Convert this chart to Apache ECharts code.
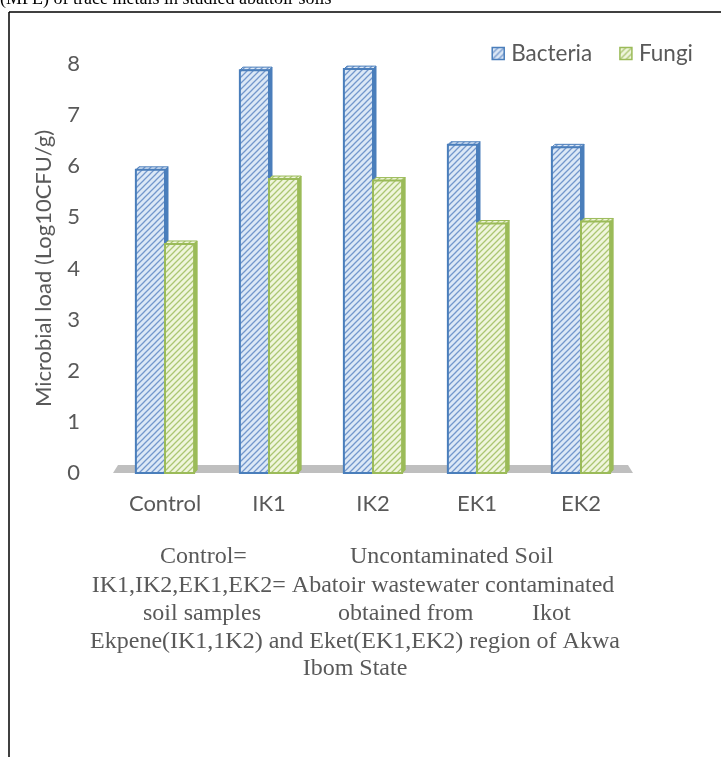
<!DOCTYPE html>
<html>
<head>
<meta charset="utf-8">
<script src="https://cdn.jsdelivr.net/npm/echarts@6/dist/echarts.min.js"></script>
<style>
  html, body { margin: 0; padding: 0; background: #fff; }
  #chart { width: 721px; height: 757px; }
</style>
</head>
<body>
<div id="chart"></div>
<script>
// ---- data ----
const categories = ['Control', 'IK1', 'IK2', 'EK1', 'EK2'];
const bacteria = [5.93, 7.88, 7.90, 6.42, 6.37];
const fungi = [4.48, 5.75, 5.72, 4.88, 4.92];
const yTicks = [0, 1, 2, 3, 4, 5, 6, 7, 8];
const seriesNames = ['Bacteria', 'Fungi'];
const yAxisTitle = 'Microbial load (Log10CFU/g)';

function makePattern(bg, line) {
  const s = 6;
  const c = document.createElement('canvas');
  c.width = s; c.height = s;
  const ctx = c.getContext('2d');
  ctx.fillStyle = bg;
  ctx.fillRect(0, 0, s, s);
  ctx.strokeStyle = line;
  ctx.lineWidth = 1.3;
  ctx.beginPath();
  ctx.moveTo(-1, s + 1); ctx.lineTo(s + 1, -1);
  ctx.moveTo(-1, 1); ctx.lineTo(1, -1);
  ctx.moveTo(s - 1, s + 1); ctx.lineTo(s + 1, s - 1);
  ctx.stroke();
  return c;
}
const bluePat = { image: makePattern('#dce8f6', '#7397cc'), repeat: 'repeat' };
const greenPat = { image: makePattern('#eff5dc', '#abc672'), repeat: 'repeat' };
const blueBorder = '#4a7ebb';
const greenBorder = '#9bbb59';

function barRenderer(sIdx, pat, border) {
  return function (params, api) {
    const cat = api.value(0), v = api.value(1);
    const top = api.coord([cat, v]);
    const base = api.coord([cat, 0]);
    const band = api.size([1, 0])[0];
    const w = band * 0.28;
    const x = top[0] - w + sIdx * w;
    const d = 3;
    const yt = top[1], yb = base[1];
    return {
      type: 'group',
      children: [
        { type: 'polygon', shape: { points: [[x + w, yt], [x + w + d, yt - d], [x + w + d, yb - d], [x + w, yb]] },
          style: { fill: border, stroke: border, lineWidth: 1 } },
        { type: 'polygon', shape: { points: [[x, yt], [x + d, yt - d], [x + w + d, yt - d], [x + w, yt]] },
          style: { fill: pat, stroke: border, lineWidth: 1 } },
        { type: 'rect', shape: { x: x, y: yt, width: w, height: yb - yt },
          style: { fill: pat, stroke: border, lineWidth: 2 } }
      ]
    };
  };
}

function floorRenderer(params, api) {
  const band = api.size([1, 0])[0];
  const p0 = api.coord([0, 0]);
  const p1 = api.coord([categories.length - 1, 0]);
  const left = p0[0] - band / 2, right = p1[0] + band / 2, y0 = p0[1];
  return {
    type: 'polygon',
    shape: { points: [[left, y0], [left + 5, y0 - 8], [right - 5, y0 - 8], [right, y0]] },
    style: { fill: '#bfbfbf' }
  };
}

const chart = echarts.init(document.getElementById('chart'), null, { renderer: 'canvas' });
const FONT = 'Lato';
const TXT = '#595959';
const SERIF = '"Liberation Serif", "Times New Roman", serif';

function captionText(text, x, y, align) {
  return { type: 'text', x: x, y: y,
    style: { text: text, font: '24px ' + SERIF, fill: TXT, textAlign: align || 'left', textVerticalAlign: 'middle' } };
}

chart.setOption({
  backgroundColor: '#fff',
  animation: false,
  grid: { left: 113, right: 88, top: 64, bottom: 284, containLabel: false },
  legend: {
    right: 23, top: 37,
    itemWidth: 12, itemHeight: 12, itemGap: 27,
    textStyle: { fontFamily: FONT, fontSize: 22.5, color: TXT, padding: [0, 0, 0, 2] },
    data: [
      { name: seriesNames[0], icon: 'rect', itemStyle: { color: bluePat, borderColor: blueBorder, borderWidth: 1.5 } },
      { name: seriesNames[1], icon: 'rect', itemStyle: { color: greenPat, borderColor: greenBorder, borderWidth: 1.5 } }
    ]
  },
  xAxis: {
    type: 'category',
    data: categories,
    axisLine: { show: false },
    axisTick: { show: false },
    axisLabel: { fontFamily: FONT, fontSize: 22, color: TXT, margin: 20 }
  },
  yAxis: {
    type: 'value',
    min: yTicks[0], max: yTicks[yTicks.length - 1], interval: 1,
    axisLine: { show: false },
    axisTick: { show: false },
    splitLine: { show: false },
    axisLabel: { fontFamily: FONT, fontSize: 22, color: TXT, margin: 33 },
    name: yAxisTitle,
    nameLocation: 'middle',
    nameGap: 58,
    nameTextStyle: { fontFamily: FONT, fontSize: 22, color: TXT }
  },
  series: [
    { type: 'custom', name: 'floor', renderItem: floorRenderer, data: [[0, 0]], z: 1, silent: true },
    { type: 'custom', name: seriesNames[0], renderItem: barRenderer(0, bluePat, blueBorder),
      itemStyle: { color: bluePat, borderColor: blueBorder },
      data: bacteria.map((v, i) => [i, v]), z: 2 },
    { type: 'custom', name: seriesNames[1], renderItem: barRenderer(1, greenPat, greenBorder),
      itemStyle: { color: greenPat, borderColor: greenBorder },
      data: fungi.map((v, i) => [i, v]), z: 3 }
  ],
  graphic: [
    { type: 'line', shape: { x1: 9, y1: 12, x2: 730, y2: 12 }, style: { stroke: '#000', lineWidth: 1.5 } },
    { type: 'line', shape: { x1: 9, y1: 12, x2: 9, y2: 770 }, style: { stroke: '#000', lineWidth: 1.5 } },
    { type: 'text', x: 0, y: 8, style: { text: '(MPE) of trace metals in studied abattoir soils', font: '18px ' + SERIF, fill: '#000', textAlign: 'left', textVerticalAlign: 'bottom' } },
    captionText('Control=', 160, 557),
    captionText('Uncontaminated Soil', 350, 557),
    captionText('IK1,IK2,EK1,EK2= Abatoir wastewater contaminated', 353, 586, 'center'),
    captionText('soil samples', 143, 614),
    captionText('obtained from', 338, 614),
    captionText('Ikot', 532, 614),
    captionText('Ekpene(IK1,1K2) and Eket(EK1,EK2) region of Akwa', 355, 642, 'center'),
    captionText('Ibom State', 355, 669, 'center')
  ]
});
</script>
</body>
</html>
